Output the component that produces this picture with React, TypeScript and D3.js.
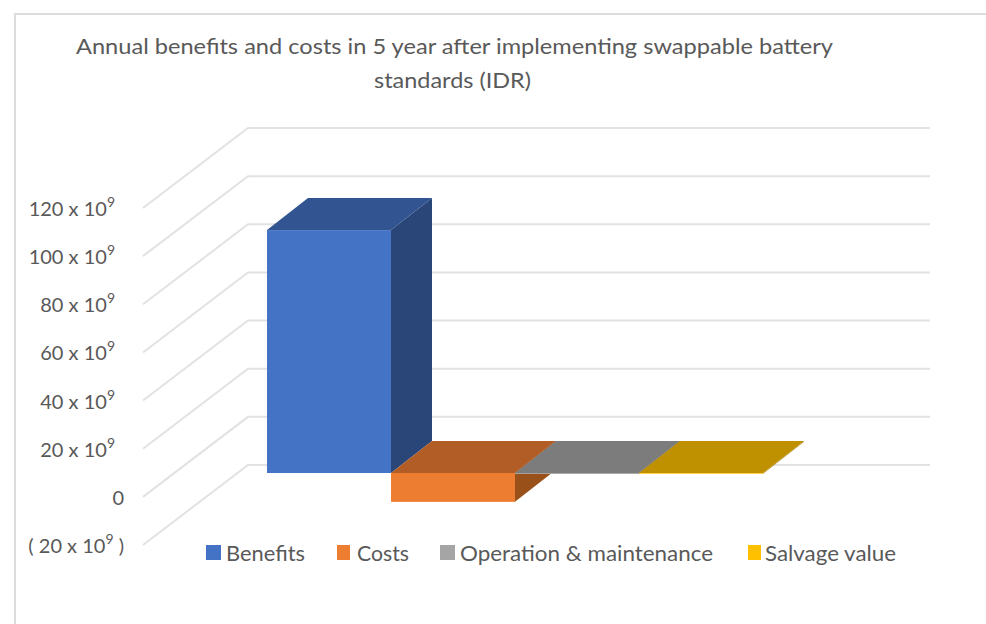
import React from "react";
import * as d3 from "d3";

const titleLines = [
  "Annual benefits and costs in 5 year after implementing swappable battery",
  "standards (IDR)",
];
const categories = ["Benefits", "Costs", "Operation & maintenance", "Salvage value"];
const valuesBillions = [101, -12, -0.4, -0.3];
const frontColors = ["#4472C4", "#ED7D31", "#A5A5A5", "#FFC000"];
const topColors = ["#325592", "#B25D25", "#7C7C7C", "#BF9000"];
const sideColors = ["#2A4679", "#9A5019", "#6E6E6E", "#A67D00"];
const tickValues = [120, 100, 80, 60, 40, 20, 0, -20];

const legendSwatchX = [206, 337, 440, 748];
const legendSwatchW = [15, 13, 15, 13];
const legendTextX = [226, 357, 460, 765];
const legendTextW = [79, 52, 253, 131];

const FONT = "Lato, 'Open Sans', sans-serif";
const TEXT = "#595959";
const GRID = "#E2E2E2";

const WALL_DX = 105;
const WALL_DY = 80;
const BAR_DX = 41;
const BAR_DY = 32;

// back-wall scale, value in billions
const yWall = d3.scaleLinear().domain([-20, 120]).range([465, 128]);
// same units, on the plane of the bars' front faces
const yFront = d3.scaleLinear().domain([-20, 120]).range([473 + 48.1, 473 - 6 * 48.1]);
const xBand = d3.scaleBand<string>().domain(categories).range([267, 763]).padding(0);

function poly(points: [number, number][]) {
  return points.map((p) => p.join(",")).join(" ");
}

function tickLabel(v: number) {
  if (v === 0) return <tspan>0</tspan>;
  const abs = Math.abs(v);
  const sup = <tspan dy={-9} fontSize={14}>9</tspan>;
  if (v < 0) {
    return (
      <>
        <tspan>{`( ${abs} x 10`}</tspan>
        {sup}
        <tspan dy={9}>{" )"}</tspan>
      </>
    );
  }
  return (
    <>
      <tspan>{`${abs} x 10`}</tspan>
      {sup}
    </>
  );
}

export default function App() {
  const zero = yFront(0);
  const bw = xBand.bandwidth();
  return (
    <svg
      width={986}
      height={624}
      style={{ position: "absolute", left: 0, top: 0, display: "block", background: "#fff" }}
      fontFamily={FONT}
    >
      <path d="M15,624 L15,14 L986,14" fill="none" stroke="#DCDCDC" strokeWidth={2} />

      <text x={454.5} y={54} textAnchor="middle" fontSize={22} fill={TEXT} textLength={757} lengthAdjust="spacingAndGlyphs">
        {titleLines[0]}
      </text>
      <text x={452.5} y={88} textAnchor="middle" fontSize={22} fill={TEXT} textLength={157} lengthAdjust="spacingAndGlyphs">
        {titleLines[1]}
      </text>

      {tickValues.map((t) => {
        const by = yWall(t);
        const fy = by + WALL_DY;
        return (
          <g key={t}>
            <polyline
              points={poly([[248 - WALL_DX, fy], [248, by], [930, by]])}
              fill="none"
              stroke={GRID}
              strokeWidth={2}
            />
            <text
              x={t === 0 || t < 0 ? 124 : 115}
              y={fy + 8}
              textAnchor="end"
              fontSize={20}
              fill={TEXT}
            >
              {tickLabel(t)}
            </text>
          </g>
        );
      })}

      {categories.map((c, i) => {
        const x0 = xBand(c)!;
        const x1 = x0 + bw;
        const yv = yFront(valuesBillions[i]);
        const top = Math.min(yv, zero);
        const bottom = Math.max(yv, zero);
        return (
          <g key={c}>
            <polygon
              points={poly([[x1, top], [x1 + BAR_DX, top - BAR_DY], [x1 + BAR_DX, bottom - BAR_DY], [x1, bottom]])}
              fill={sideColors[i]}
            />
            <polygon
              points={poly([[x0, top], [x0 + BAR_DX, top - BAR_DY], [x1 + BAR_DX, top - BAR_DY], [x1, top]])}
              fill={topColors[i]}
            />
            <rect x={x0} y={top} width={bw} height={bottom - top} fill={frontColors[i]} />
          </g>
        );
      })}

      {categories.map((c, i) => (
        <g key={c}>
          <rect x={legendSwatchX[i]} y={545} width={legendSwatchW[i]} height={15} fill={frontColors[i]} />
          <text
            x={legendTextX[i]}
            y={561}
            fontSize={21}
            fill={TEXT}
            textLength={legendTextW[i]}
            lengthAdjust="spacingAndGlyphs"
          >
            {c}
          </text>
        </g>
      ))}
    </svg>
  );
}
